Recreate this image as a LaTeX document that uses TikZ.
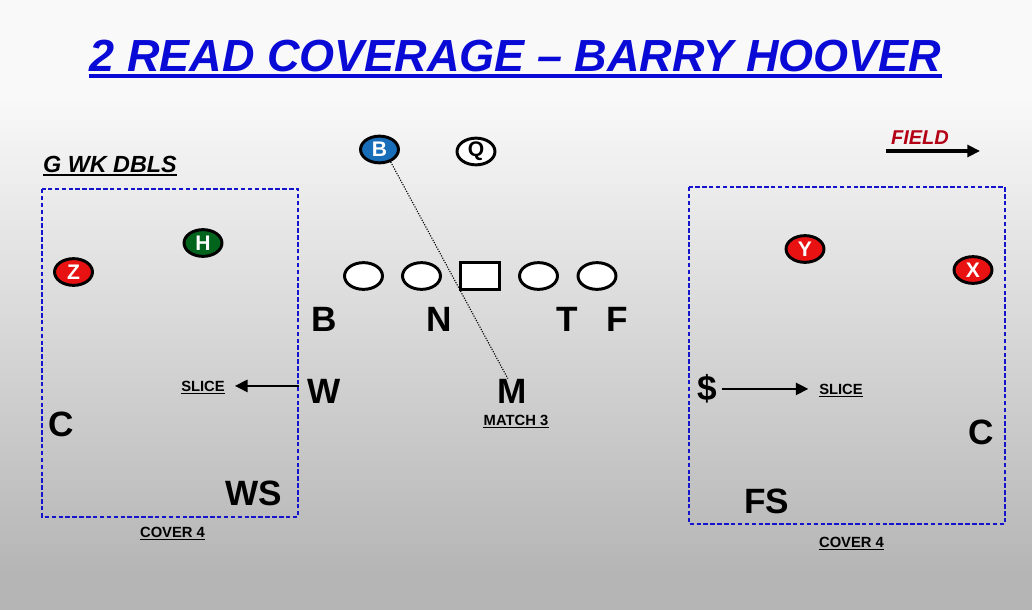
\documentclass[tikz,border=0pt]{standalone}
\usepackage{fontspec}
\setmainfont{Liberation Sans}
\usetikzlibrary{shapes.geometric,arrows.meta}
\definecolor{zoneblue}{RGB}{20,20,205}
\definecolor{titleblue}{RGB}{10,10,215}
\definecolor{manred}{RGB}{232,18,18}
\definecolor{mangreen}{RGB}{0,100,28}
\definecolor{manblue}{RGB}{25,110,185}
\definecolor{fieldred}{RGB}{180,0,20}
\definecolor{bgtop}{RGB}{249,249,249}
\definecolor{bgbot}{RGB}{181,181,181}

\begin{document}
\begin{tikzpicture}[x=0.025cm,y=-0.025cm,>={Triangle[length=9pt,width=8.5pt]},
    ply/.style={ellipse,draw=black,line width=2.1pt,minimum width=27pt,minimum height=19pt,inner sep=0pt,text=white,font=\bfseries\fontsize{15}{15}\selectfont},
    lman/.style={ellipse,draw=black,fill=white,line width=2.1pt,minimum width=27pt,minimum height=19pt},
    cman/.style={rectangle,draw=black,fill=white,line width=2.1pt,minimum width=27.5pt,minimum height=19pt},
    def/.style={font=\bfseries\fontsize{25}{30}\selectfont,inner sep=0pt,anchor=base},
    tag/.style={font=\bfseries\fontsize{10.5}{12}\selectfont,inner sep=0pt,anchor=base},
    zone/.style={draw=zoneblue,line width=2pt,dash pattern=on 3.2pt off 1.7pt},
    ul/.style={line width=#1,line cap=butt}]
        \fill[bgtop] (0,0) rectangle (1032,610);
        \shade[top color=bgtop,bottom color=bgbot] (0,95) rectangle (1032,575);
        \fill[bgbot] (0,575) rectangle (1032,610);
        \node[inner sep=0pt,anchor=base,text=titleblue,font=\bfseries\itshape\fontsize{32}{38}\selectfont] (title) at (515.5,72) {2 READ COVERAGE – BARRY HOOVER};
        \draw[ul=2.8pt,titleblue] ([yshift=-2.8pt]title.base west)--([yshift=-2.8pt]title.base east);
        \node[inner sep=0pt,anchor=base,font=\bfseries\itshape\fontsize{16.6}{19}\selectfont] (form) at (110,173) {G WK DBLS};
        \draw[ul=1.5pt] ([yshift=-1.7pt]form.base west)--([yshift=-1.7pt]form.base east);
        \node[inner sep=0pt,anchor=base,text=fieldred,font=\bfseries\itshape\fontsize{14.2}{16}\selectfont] (field) at (920,145) {FIELD};
        \coordinate (fieldtail) at (886,151);
        \coordinate (fieldtip) at (980,151);
        \draw[->,line width=2.2pt] (fieldtail)--(fieldtip);
        \draw[zone] (42,189) rectangle (298,517);
        \draw[zone] (689,187) rectangle (1005,524);
        \node[ply,fill=mangreen] (h) at (203,243) {H};
        \node[ply,fill=manred] (z) at (73.5,272) {Z};
        \node[ply,fill=manblue] (bk) at (379.5,149.5) {B};
        \node[ply,fill=white,text=black] (q) at (476,151.5) {Q};
        \node[ply,fill=manred] (y) at (805,249) {Y};
        \node[ply,fill=manred] (x) at (973,270) {X};
        \node[lman] (lt) at (363.5,276) {};
        \node[lman] (lg) at (421.5,276) {};
        \node[cman] (c) at (480,276) {};
        \node[lman] (rg) at (538.5,276) {};
        \node[lman] (rt) at (597,276) {};
        \node[def] (b) at (324,331) {B};
        \node[def] (n) at (439,331) {N};
        \node[def] (t) at (567.5,331) {T};
        \node[def] (f) at (617,331) {F};
        \node[def,inner xsep=6pt] (w) at (324.5,403) {W};
        \node[def] (m) at (512,403) {M};
        \node[def] (cl) at (61.5,436) {C};
        \node[def] (ws) at (253.5,505) {WS};
        \node[def,inner xsep=3pt] (star) at (707.5,400) {\$};
        \node[def] (cr) at (981,444) {C};
        \node[def] (fs) at (766.5,513) {FS};
        \node[tag] (slicel) at (203,391) {SLICE};
        \draw[ul=1pt] ([yshift=-1.6pt]slicel.base west)--([yshift=-1.6pt]slicel.base east);
        \node[tag] (match) at (516,425) {MATCH 3};
        \draw[ul=1pt] ([yshift=-1.6pt]match.base west)--([yshift=-1.6pt]match.base east);
        \node[tag] (coverl) at (172.5,537) {COVER 4};
        \draw[ul=1pt] ([yshift=-1.6pt]coverl.base west)--([yshift=-1.6pt]coverl.base east);
        \node[tag] (slicer) at (841,394) {SLICE};
        \draw[ul=1pt] ([yshift=-1.6pt]slicer.base west)--([yshift=-1.6pt]slicer.base east);
        \node[tag] (coverr) at (851.5,547) {COVER 4};
        \draw[ul=1pt] ([yshift=-1.6pt]coverr.base west)--([yshift=-1.6pt]coverr.base east);
        \draw[->,line width=2pt,shorten >=7pt] (w.west|-slicel.center)--(slicel.east);
        \draw[->,line width=2pt,shorten >=7.5pt] (star.east|-slicer.center)--(slicer.west);
        \draw[densely dotted,line width=0.8pt] (bk.-48)--([xshift=-3pt]m.north);
\end{tikzpicture}
\end{document}
